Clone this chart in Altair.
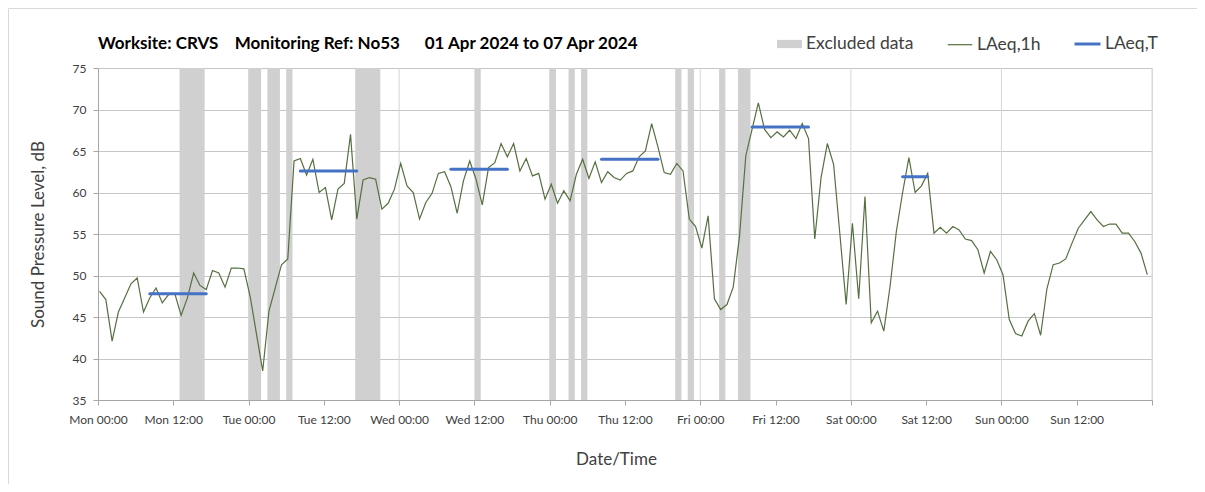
import altair as alt
import pandas as pd

# Hourly LAeq,1h values (dB), one list per day, 00:00 .. 23:00
mon = [48.1, 47.1, 42.1, 45.6, 47.3, 49.0, 49.7, 45.6, 47.3, 48.5, 46.7, 47.7,
       47.8, 45.2, 47.3, 50.3, 48.8, 48.3, 50.6, 50.3, 48.6, 50.9, 50.9, 50.8]
tue = [47.5, 43.0, 38.5, 45.7, 48.5, 51.3, 52.0, 63.8, 64.1, 62.1, 64.0, 60.0,
       60.6, 56.7, 60.4, 61.1, 67.0, 56.8, 61.5, 61.8, 61.6, 58.0, 58.7, 60.4]
wed = [63.5, 60.8, 60.0, 56.8, 58.8, 59.9, 62.3, 62.5, 60.7, 57.5, 61.4, 63.8,
       61.6, 58.5, 63.0, 63.6, 65.9, 64.3, 65.9, 62.6, 64.1, 62.0, 62.3, 59.2]
thu = [61.0, 58.7, 60.2, 59.0, 62.2, 64.0, 61.7, 63.7, 61.2, 62.5, 61.8, 61.5,
       62.3, 62.6, 64.3, 65.0, 68.3, 65.5, 62.4, 62.2, 63.5, 62.6, 56.8, 55.9]
fri = [53.3, 57.2, 47.2, 45.9, 46.5, 48.6, 54.7, 64.4, 67.6, 70.8, 67.6, 66.6,
       67.3, 66.7, 67.5, 66.5, 68.3, 66.5, 54.4, 61.8, 65.9, 63.4, 55.0, 46.5]
sat = [56.3, 47.2, 59.5, 44.3, 45.7, 43.3, 48.7, 55.3, 60.0, 64.2, 60.0, 60.8,
       62.3, 55.1, 55.8, 55.1, 55.9, 55.5, 54.4, 54.2, 53.1, 50.3, 52.9, 51.9]
sun = [50.1, 44.7, 43.0, 42.7, 44.5, 45.4, 42.8, 48.4, 51.3, 51.5, 52.0, 53.9,
       55.7, 56.7, 57.7, 56.7, 55.9, 56.2, 56.2, 55.1, 55.1, 54.1, 52.7, 50.1]

# Excluded periods (hours from Mon 00:00)
excl_start = [13, 24, 27, 30, 41, 60, 72, 75, 77, 92, 94, 99, 102]
excl_end = [17, 26, 29, 31, 45, 61, 73, 76, 78, 93, 95, 100, 104]

# LAeq,T daytime periods (hour index of first and last hourly value)
per_start = [8, 32, 56, 80, 104, 128]
per_end = [17, 41, 65, 89, 113, 132]
per_level = [47.8, 62.6, 62.8, 64.0, 67.9, 61.9]

day_lines = [24, 48, 72, 96, 120, 144, 168]
tick_hours = list(range(0, 169, 12))

FONT = "Lato"
TXT = "#404040"

levels = mon + tue + wed + thu + fri + sat + sun
hourly = pd.DataFrame({
    "hour": [i + 0.25 for i in range(len(levels))],
    "level": levels,
    "series": ["LAeq,1h"] * len(levels),
})
excl = pd.DataFrame({"start": excl_start, "end": excl_end,
                     "label": ["Excluded data"] * len(excl_start)})
per = pd.DataFrame({"start": [s + 0.25 for s in per_start],
                    "end": [e + 0.25 for e in per_end],
                    "level": per_level,
                    "series": ["LAeq,T"] * len(per_start)})
grid = pd.DataFrame({"h": day_lines})
one = pd.DataFrame({"a": [0]})

xscale = alt.Scale(domain=[0, 168], nice=False, zero=False)
yscale = alt.Scale(domain=[35, 75], nice=False, zero=False)

label_expr = ("datum.value >= 168 ? '' : "
              "['Mon','Tue','Wed','Thu','Fri','Sat','Sun'][floor(datum.value / 24)]"
              " + ' ' + (datum.value % 24 == 0 ? '00:00' : '12:00')")

xaxis = alt.Axis(values=tick_hours, labelExpr=label_expr, grid=False,
                 labelOverlap=False, labelFlush=False, labelFont=FONT,
                 labelFontSize=12, labelColor=TXT, labelPadding=9, tickSize=5,
                 tickColor="#a6a6a6", domainColor="#a6a6a6",
                 title="Date/Time", titleFont=FONT, titleFontSize=17,
                 titleFontWeight="normal", titleColor=TXT,
                 titleX=518, titleY=59, titleBaseline="middle",
                 titleAlign="center")
yaxis = alt.Axis(values=list(range(35, 76, 5)), grid=True, gridColor="#c6c6c6",
                 labelFont=FONT, labelFontSize=12, labelColor=TXT,
                 labelPadding=7, tickSize=5, tickColor="#a6a6a6",
                 domainColor="#a6a6a6",
                 title="Sound Pressure Level, dB", titleFont=FONT,
                 titleFontSize=17, titleFontWeight="normal", titleColor=TXT,
                 titleX=-60, titleY=166, titleAngle=270,
                 titleBaseline="middle", titleAlign="center")


def legend(x, y, **kw):
    return alt.Legend(orient="none", legendX=x, legendY=y, title=None,
                      labelFont=FONT, labelFontSize=17.5, labelColor=TXT,
                      padding=0, **kw)


bands = alt.Chart(excl).mark_rect().encode(
    x=alt.X("start:Q", scale=xscale, axis=xaxis),
    x2="end:Q",
    y=alt.Y(datum=75, type="quantitative", scale=yscale, axis=yaxis),
    y2=alt.datum(35),
    color=alt.Color("label:N",
                    scale=alt.Scale(domain=["Excluded data"], range=["#d0d0d0"]),
                    legend=legend(679, -36.5, symbolType="M-1,-0.33H1V0.33H-1Z",
                                  symbolSize=625, symbolStrokeWidth=0,
                                  labelOffset=4)),
)

vgrid = alt.Chart(grid).mark_rule(color="#d6d6d6", strokeWidth=1).encode(
    x=alt.X("h:Q", scale=xscale, axis=xaxis),
)

line = alt.Chart(hourly).mark_line(strokeWidth=1.2).encode(
    x=alt.X("hour:Q", scale=xscale, axis=xaxis),
    y=alt.Y("level:Q", scale=yscale, axis=yaxis),
    color=alt.Color("series:N",
                    scale=alt.Scale(domain=["LAeq,1h"], range=["#557040"]),
                    legend=legend(849, -36.3, symbolType="stroke",
                                  symbolSize=600, symbolStrokeWidth=1.2,
                                  labelOffset=4)),
)

periods = alt.Chart(per).mark_rule(strokeWidth=3, strokeCap="round").encode(
    x=alt.X("start:Q", scale=xscale, axis=xaxis),
    x2="end:Q",
    y=alt.Y("level:Q", scale=yscale, axis=yaxis),
    color=alt.Color("series:N",
                    scale=alt.Scale(domain=["LAeq,T"], range=["#4472c4"]),
                    legend=legend(975, -38.5, symbolType="stroke",
                                  symbolSize=676, symbolStrokeWidth=3,
                                  labelOffset=3)),
)

# light chart-area frame (left and top edges)
frame_left = alt.Chart(one).mark_rule(color="#d9d9d9", strokeWidth=1).encode(
    x=alt.value(-89.5), y=alt.value(-59.5), y2=alt.value(420))
frame_top = alt.Chart(one).mark_rule(color="#d9d9d9", strokeWidth=1).encode(
    x=alt.value(-89.5), x2=alt.value(1100), y=alt.value(-59.5))

title_text = ("Worksite: CRVS\u00a0\u00a0\u00a0\u00a0Monitoring Ref: No53"
              "\u00a0\u00a0\u00a0\u00a0\u00a0\u00a001 Apr 2024 to 07 Apr 2024")

chart = alt.layer(frame_left, frame_top, bands, vgrid, line, periods).resolve_scale(
    color="independent"
).properties(
    width=1054,
    height=332,
    autosize=alt.AutoSizeParams(type="none"),
    padding={"left": 90, "top": 60, "right": 45, "bottom": 84},
    title=alt.TitleParams(title_text, anchor="start", frame="group", font=FONT,
                          fontSize=17, fontWeight="bold", color="#000000",
                          offset=-45),
).configure_view(stroke=None).configure(background="white")

chart.save("out.html", embed_options={"renderer": "svg", "actions": False})
